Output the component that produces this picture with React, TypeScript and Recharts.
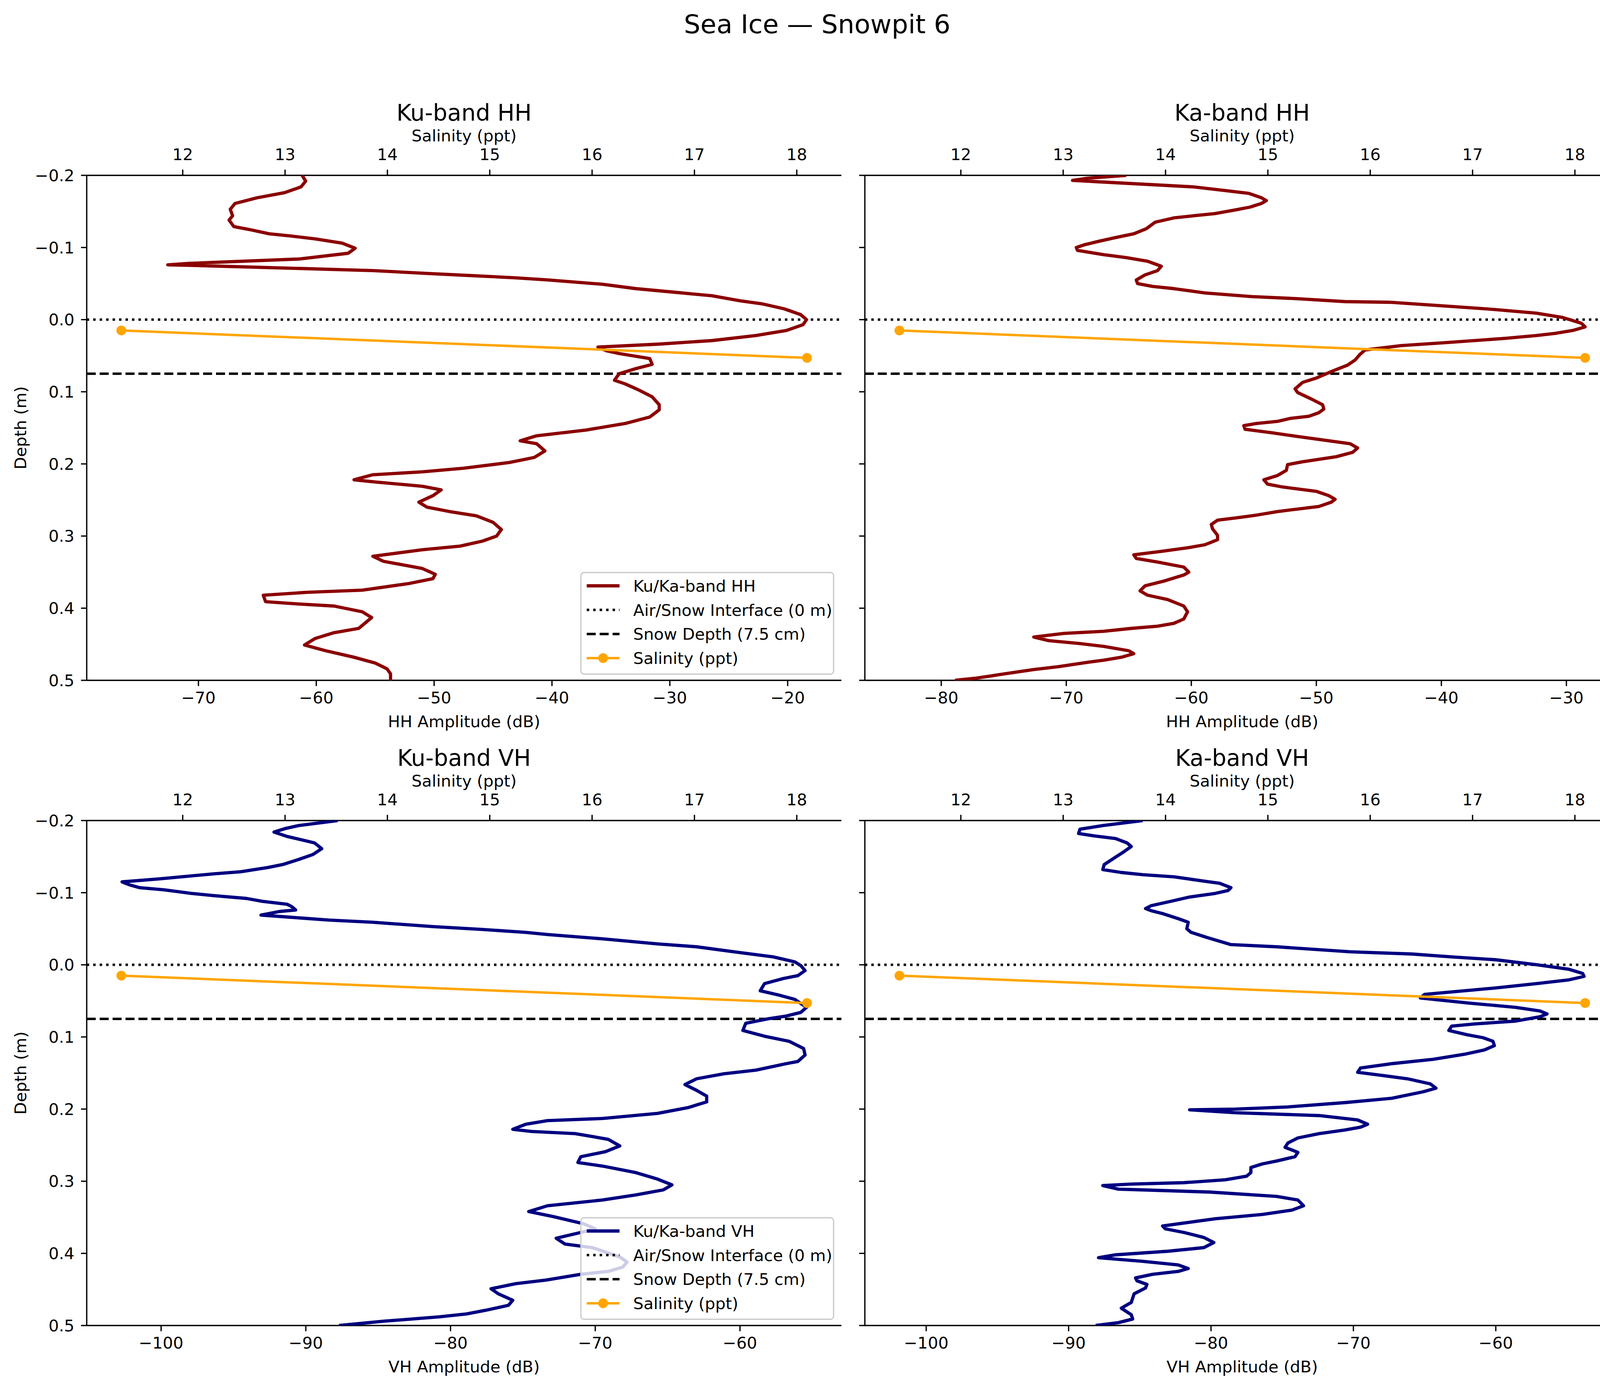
import React from "react";
import { ScatterChart, Scatter, XAxis, YAxis, ReferenceLine } from "recharts";

const FONT = '"DejaVu Sans", Verdana, sans-serif';

// [depth (m), amplitude (dB)]
const kuHH: [number, number][] = [
  [-0.2, -61.2], [-0.192, -60.9], [-0.184, -61.3], [-0.176, -62.7], [-0.169, -65.0], [-0.161, -66.9],
  [-0.153, -67.3], [-0.144, -67.1], [-0.138, -67.4], [-0.129, -67.0], [-0.125, -65.7], [-0.119, -64.0],
  [-0.116, -62.2], [-0.112, -60.1], [-0.106, -57.8], [-0.099, -56.7], [-0.092, -57.3], [-0.084, -61.5],
  [-0.078, -70.8], [-0.076, -72.6], [-0.075, -70.1], [-0.068, -55.2], [-0.064, -50.6], [-0.061, -46.8],
  [-0.058, -43.1], [-0.055, -40.3], [-0.049, -35.7], [-0.043, -32.9], [-0.038, -29.6], [-0.033, -26.4],
  [-0.026, -24.0], [-0.022, -22.2], [-0.015, -20.3], [-0.007, -18.9], [0.0, -18.4], [0.007, -18.7],
  [0.015, -20.1], [0.022, -22.7], [0.029, -26.4], [0.034, -31.0], [0.038, -36.1], [0.043, -35.4],
  [0.047, -34.3], [0.054, -31.7], [0.062, -31.5], [0.068, -32.9], [0.075, -34.3], [0.084, -34.7],
  [0.089, -33.8], [0.097, -32.7], [0.107, -31.5], [0.118, -30.9], [0.125, -30.9], [0.135, -31.7],
  [0.144, -33.8], [0.153, -37.1], [0.161, -41.3], [0.168, -42.7], [0.172, -41.3], [0.182, -40.6],
  [0.191, -41.5], [0.198, -43.6], [0.206, -47.5], [0.211, -51.0], [0.215, -55.2], [0.222, -56.8],
  [0.225, -55.0], [0.231, -51.0], [0.236, -49.4], [0.244, -50.1], [0.253, -51.3], [0.26, -50.6],
  [0.266, -48.7], [0.272, -46.4], [0.281, -45.0], [0.291, -44.3], [0.3, -44.7], [0.307, -45.9],
  [0.314, -47.8], [0.319, -51.0], [0.328, -55.2], [0.335, -54.3], [0.345, -51.0], [0.353, -49.9],
  [0.359, -50.1], [0.366, -52.2], [0.375, -56.1], [0.378, -60.8], [0.382, -64.5], [0.391, -64.3],
  [0.394, -61.7], [0.397, -58.5], [0.405, -56.1], [0.413, -55.3], [0.428, -56.4], [0.434, -58.5],
  [0.442, -60.1], [0.451, -61.0], [0.459, -59.2], [0.468, -56.8], [0.476, -55.0], [0.484, -54.0],
  [0.491, -53.7], [0.5, -53.7],
];

const kaHH: [number, number][] = [
  [-0.2, -65.2], [-0.196, -68.3], [-0.193, -69.5], [-0.184, -59.8], [-0.179, -57.3], [-0.175, -55.4],
  [-0.169, -54.4], [-0.165, -54.0], [-0.161, -54.4], [-0.156, -55.3], [-0.152, -56.5], [-0.147, -58.1],
  [-0.144, -59.8], [-0.141, -61.4], [-0.135, -62.9], [-0.126, -63.6], [-0.119, -64.6], [-0.114, -66.0],
  [-0.109, -67.3], [-0.104, -68.5], [-0.1, -69.2], [-0.096, -69.1], [-0.09, -67.0], [-0.086, -65.2],
  [-0.081, -63.5], [-0.074, -62.4], [-0.068, -62.7], [-0.062, -63.7], [-0.055, -64.4], [-0.05, -64.3],
  [-0.046, -63.1], [-0.043, -61.4], [-0.037, -58.9], [-0.032, -55.2], [-0.029, -51.5], [-0.025, -47.7],
  [-0.024, -44.0], [-0.019, -39.8], [-0.016, -37.3], [-0.014, -35.7], [-0.009, -32.4], [-0.003, -30.3],
  [0.005, -28.8], [0.01, -28.5], [0.015, -29.5], [0.019, -30.9], [0.022, -32.4], [0.026, -34.9],
  [0.032, -39.8], [0.036, -43.2], [0.042, -46.1], [0.048, -46.5], [0.056, -46.9], [0.063, -47.5],
  [0.072, -48.8], [0.081, -50.0], [0.087, -51.1], [0.096, -51.7], [0.101, -51.5], [0.11, -50.4],
  [0.118, -49.5], [0.124, -49.4], [0.129, -49.8], [0.134, -50.6], [0.137, -52.1], [0.141, -53.1],
  [0.144, -54.8], [0.147, -55.8], [0.152, -55.7], [0.157, -53.5], [0.162, -51.5], [0.168, -49.0],
  [0.172, -47.3], [0.178, -46.7], [0.184, -47.1], [0.19, -48.4], [0.197, -51.1], [0.201, -52.3],
  [0.209, -52.4], [0.216, -53.1], [0.222, -54.2], [0.228, -53.9], [0.232, -52.7], [0.238, -50.0],
  [0.244, -49.0], [0.249, -48.5], [0.253, -48.8], [0.259, -49.8], [0.266, -53.1], [0.271, -54.8],
  [0.275, -56.5], [0.278, -57.9], [0.284, -58.4], [0.29, -58.3], [0.299, -57.9], [0.305, -57.9],
  [0.312, -58.9], [0.316, -60.2], [0.321, -62.3], [0.326, -64.6], [0.331, -64.4], [0.336, -62.7],
  [0.343, -60.6], [0.35, -60.2], [0.354, -60.6], [0.362, -62.1], [0.369, -63.7], [0.376, -64.1],
  [0.382, -63.5], [0.388, -61.9], [0.397, -60.6], [0.405, -60.3], [0.415, -60.6], [0.421, -61.4],
  [0.425, -62.7], [0.428, -64.8], [0.432, -67.0], [0.435, -70.2], [0.44, -72.6], [0.445, -71.4],
  [0.449, -68.9], [0.453, -67.0], [0.459, -65.0], [0.463, -64.6], [0.468, -65.6], [0.472, -67.0],
  [0.475, -68.3], [0.481, -70.6], [0.485, -72.6], [0.492, -75.3], [0.497, -77.2], [0.5, -78.9],
];

const kuVH: [number, number][] = [
  [-0.2, -87.8], [-0.193, -90.5], [-0.189, -91.4], [-0.184, -92.2], [-0.178, -91.3], [-0.169, -89.4],
  [-0.161, -88.9], [-0.153, -89.5], [-0.146, -90.5], [-0.139, -91.6], [-0.135, -92.6], [-0.129, -94.5],
  [-0.126, -96.4], [-0.122, -98.6], [-0.119, -100.2], [-0.115, -102.7], [-0.111, -102.2], [-0.107, -101.5],
  [-0.104, -99.8], [-0.099, -97.9], [-0.096, -96.4], [-0.092, -94.1], [-0.088, -93.0], [-0.084, -91.3],
  [-0.081, -91.0], [-0.076, -90.7], [-0.074, -91.8], [-0.069, -93.1], [-0.066, -91.1], [-0.062, -88.4],
  [-0.059, -85.4], [-0.053, -81.2], [-0.049, -77.8], [-0.045, -74.8], [-0.042, -73.3], [-0.036, -69.5],
  [-0.029, -65.7], [-0.025, -63.0], [-0.017, -60.0], [-0.011, -57.7], [-0.004, -56.2], [0.001, -55.8],
  [0.008, -55.5], [0.015, -56.0], [0.019, -57.0], [0.026, -58.3], [0.036, -58.6], [0.042, -57.3],
  [0.048, -56.2], [0.059, -55.4], [0.066, -55.8], [0.071, -56.8], [0.075, -58.1], [0.081, -59.6],
  [0.091, -59.8], [0.099, -58.3], [0.106, -56.6], [0.116, -55.6], [0.125, -55.5], [0.134, -56.0],
  [0.137, -56.8], [0.146, -58.9], [0.151, -61.1], [0.158, -63.0], [0.166, -63.8], [0.174, -63.0],
  [0.182, -62.3], [0.19, -62.3], [0.198, -63.6], [0.206, -65.7], [0.213, -69.5], [0.216, -73.3],
  [0.221, -74.8], [0.228, -75.7], [0.231, -74.4], [0.234, -71.4], [0.238, -70.2], [0.242, -69.1],
  [0.251, -68.3], [0.259, -69.3], [0.266, -71.0], [0.274, -71.2], [0.279, -69.5], [0.288, -67.2],
  [0.297, -65.7], [0.305, -64.7], [0.312, -65.3], [0.319, -67.2], [0.326, -69.5], [0.334, -73.3],
  [0.342, -74.6], [0.349, -72.9], [0.359, -70.8], [0.366, -70.0], [0.371, -71.0], [0.379, -72.7],
  [0.387, -72.1], [0.392, -70.2], [0.405, -68.3], [0.412, -67.8], [0.419, -68.1], [0.425, -69.1],
  [0.429, -71.0], [0.437, -73.4], [0.442, -75.5], [0.449, -77.2], [0.456, -76.7], [0.465, -75.7],
  [0.472, -76.0], [0.479, -77.6], [0.484, -78.9], [0.488, -80.8], [0.494, -84.6], [0.5, -87.7],
];

const kaVH: [number, number][] = [
  [-0.2, -84.8], [-0.193, -87.6], [-0.188, -89.2], [-0.182, -89.3], [-0.179, -88.3], [-0.175, -86.7],
  [-0.169, -85.9], [-0.164, -85.6], [-0.157, -86.1], [-0.148, -86.8], [-0.139, -87.5], [-0.132, -87.6],
  [-0.128, -86.3], [-0.125, -84.8], [-0.122, -82.6], [-0.116, -80.5], [-0.113, -79.4], [-0.107, -78.6],
  [-0.103, -78.8], [-0.099, -79.7], [-0.094, -81.5], [-0.089, -82.6], [-0.082, -84.2], [-0.078, -84.6],
  [-0.075, -84.2], [-0.071, -83.4], [-0.064, -82.3], [-0.059, -81.6], [-0.05, -81.7], [-0.045, -81.4],
  [-0.038, -80.3], [-0.028, -78.6], [-0.025, -75.4], [-0.018, -70.2], [-0.015, -65.9], [-0.011, -63.1],
  [-0.007, -60.0], [0.0, -57.1], [0.006, -54.9], [0.012, -53.9], [0.016, -53.8], [0.021, -54.9],
  [0.026, -57.1], [0.032, -60.0], [0.036, -62.2], [0.041, -65.0], [0.046, -65.3], [0.053, -61.9],
  [0.059, -58.6], [0.064, -56.9], [0.068, -56.4], [0.072, -56.9], [0.078, -58.6], [0.082, -61.5],
  [0.085, -63.1], [0.091, -63.3], [0.097, -62.0], [0.101, -60.9], [0.106, -60.2], [0.112, -60.1],
  [0.118, -60.8], [0.124, -62.2], [0.131, -64.4], [0.137, -67.3], [0.143, -69.5], [0.149, -69.7],
  [0.153, -68.1], [0.158, -66.2], [0.165, -64.6], [0.171, -64.2], [0.176, -65.1], [0.185, -67.3],
  [0.191, -70.6], [0.197, -74.6], [0.2, -78.3], [0.201, -81.5], [0.205, -78.3], [0.209, -72.4],
  [0.215, -69.7], [0.221, -69.0], [0.225, -69.5], [0.229, -70.6], [0.234, -72.4], [0.24, -73.9],
  [0.247, -74.6], [0.253, -74.8], [0.26, -73.9], [0.266, -74.1], [0.272, -75.4], [0.276, -76.4],
  [0.281, -77.2], [0.288, -77.2], [0.293, -77.5], [0.298, -79.0], [0.302, -81.9], [0.304, -85.6],
  [0.306, -87.6], [0.311, -86.5], [0.312, -84.8], [0.315, -80.1], [0.321, -75.4], [0.326, -73.9],
  [0.334, -73.5], [0.34, -74.3], [0.346, -76.4], [0.352, -79.7], [0.362, -83.4], [0.366, -83.2],
  [0.371, -81.9], [0.378, -80.5], [0.385, -79.8], [0.392, -80.5], [0.397, -83.0], [0.402, -86.7],
  [0.406, -87.9], [0.411, -84.8], [0.416, -82.3], [0.421, -81.6], [0.425, -82.3], [0.429, -84.1],
  [0.434, -85.3], [0.438, -85.2], [0.443, -84.5], [0.448, -84.6], [0.456, -85.4], [0.468, -85.6],
  [0.476, -86.3], [0.485, -85.6], [0.491, -85.5], [0.496, -86.5], [0.5, -88.1],
];

const salinityDepth = [0.015, 0.053];
const salinityValue = [11.4, 18.1];

const depthTicks = [-0.2, -0.1, 0, 0.1, 0.2, 0.3, 0.4, 0.5];
const salinityTicks = [12, 13, 14, 15, 16, 17, 18];
const kuHHTicks = [-70, -60, -50, -40, -30, -20];
const kaHHTicks = [-80, -70, -60, -50, -40, -30];
const vhTicks = [-100, -90, -80, -70, -60];

const AIR_SNOW = 0;
const SNOW_DEPTH = 0.075;

const HH_COLOR = "#8B0000";
const VH_COLOR = "#000080";
const SAL_COLOR = "#FFA500";

// plot boxes in page pixels
const COL_L = [222, 2214];
const ROW_T = [449, 2101];
const PW = 1932;
const PH = 1293;
const AX_L = 150;
const AX_T = 120;
const AX_B = 110;

const FS = 41.67;
const LW = 3.33;

const minus = (s: string) => s.replace("-", "\u2212");
const fmtInt = (v: number) => minus(String(v));
const fmtDepth = (v: number) => minus((Math.abs(v) < 1e-9 ? 0 : v).toFixed(1));

const noDot = () => <g />;
const salDot = (p: any) => <circle cx={p.cx} cy={p.cy} r={12.5} fill={SAL_COLOR} />;

const panels = [
  { title: "Ku-band HH", series: kuHH, color: HH_COLOR, domain: [-79.48, -15.44], ticks: kuHHTicks, xLabel: "HH Amplitude (dB)", col: 0, row: 0 },
  { title: "Ka-band HH", series: kaHH, color: HH_COLOR, domain: [-86.11, -25.75], ticks: kaHHTicks, xLabel: "HH Amplitude (dB)", col: 1, row: 0 },
  { title: "Ku-band VH", series: kuVH, color: VH_COLOR, domain: [-105.14, -52.99], ticks: vhTicks, xLabel: "VH Amplitude (dB)", col: 0, row: 1 },
  { title: "Ka-band VH", series: kaVH, color: VH_COLOR, domain: [-104.31, -51.31], ticks: vhTicks, xLabel: "VH Amplitude (dB)", col: 1, row: 1 },
];

const axisLine = { stroke: "#000", strokeWidth: LW };
const tickStyle = { fill: "#000", fontSize: FS, fontFamily: FONT };

function Panel({ p }: { p: (typeof panels)[number] }) {
  const data = p.series.map(([d, v]) => ({ x: v, y: d }));
  const sal = salinityDepth.map((d, i) => ({ x: salinityValue[i], y: d }));
  const left = COL_L[p.col];
  const top = ROW_T[p.row];
  return (
    <div style={{ position: "absolute", left: left - AX_L, top: top - AX_T }}>
      <ScatterChart width={AX_L + PW} height={AX_T + PH + AX_B} margin={{ top: 0, right: 0, bottom: 0, left: 0 }}>
        <XAxis
          xAxisId="amp" type="number" dataKey="x" domain={p.domain} ticks={p.ticks} allowDataOverflow
          orientation="bottom" height={AX_B} interval={0} stroke="#000"
          tickSize={14.6} tickMargin={15} axisLine={axisLine} tickLine={axisLine} tick={tickStyle}
          tickFormatter={fmtInt}
        />
        <XAxis
          xAxisId="sal" type="number" dataKey="x" domain={[11.062, 18.436]} ticks={salinityTicks} allowDataOverflow
          orientation="top" height={AX_T} interval={0} stroke="#000"
          tickSize={14.6} tickMargin={24} axisLine={axisLine} tickLine={axisLine} tick={tickStyle}
          tickFormatter={fmtInt}
        />
        <YAxis
          yAxisId="d" type="number" dataKey="y" domain={[-0.2, 0.5]} ticks={depthTicks} reversed allowDataOverflow
          width={AX_L} interval={0} stroke="#000"
          tickSize={14.6} tickMargin={17} axisLine={axisLine} tickLine={axisLine} tick={tickStyle}
          tickFormatter={p.col === 0 ? fmtDepth : () => ""}
        />
        <YAxis
          yAxisId="frame" orientation="right" type="number" domain={[0, 1]} width={0}
          tick={false} tickLine={false} axisLine={axisLine}
        />
        <Scatter
          xAxisId="amp" yAxisId="d" data={data} shape={noDot} isAnimationActive={false}
          line={{ stroke: p.color, strokeWidth: 8.33, strokeLinejoin: "round" }}
        />
        <ReferenceLine xAxisId="amp" yAxisId="d" y={AIR_SNOW} stroke="#000" strokeWidth={6.25} strokeDasharray="6.25 10.3" />
        <ReferenceLine xAxisId="amp" yAxisId="d" y={SNOW_DEPTH} stroke="#000" strokeWidth={6.25} strokeDasharray="23.1 10" />
        <Scatter
          xAxisId="sal" yAxisId="d" data={sal} shape={salDot} isAnimationActive={false}
          line={{ stroke: SAL_COLOR, strokeWidth: 6.25 }}
        />
      </ScatterChart>
    </div>
  );
}

function LegendBox({ x, y, color, label }: { x: number; y: number; color: string; label: string }) {
  const rows = [0, 1, 2, 3].map((i) => y + 34 + i * 61.7);
  const hx0 = x + 15;
  const hx1 = x + 99;
  const tx = x + 134;
  return (
    <g>
      <rect x={x} y={y} width={647} height={260} rx={8} fill="rgba(255,255,255,0.8)" stroke="#cccccc" strokeWidth={3.33} />
      <line x1={hx0} x2={hx1} y1={rows[0]} y2={rows[0]} stroke={color} strokeWidth={8.33} />
      <text x={tx} y={rows[0] + 15}>{label}</text>
      <line x1={hx0} x2={hx1} y1={rows[1]} y2={rows[1]} stroke="#000" strokeWidth={6.25} strokeDasharray="6.25 10.3" />
      <text x={tx} y={rows[1] + 15}>Air/Snow Interface (0 m)</text>
      <line x1={hx0} x2={hx1} y1={rows[2]} y2={rows[2]} stroke="#000" strokeWidth={6.25} strokeDasharray="23.1 10" />
      <text x={tx} y={rows[2] + 15}>Snow Depth (7.5 cm)</text>
      <line x1={hx0} x2={hx1} y1={rows[3]} y2={rows[3]} stroke={SAL_COLOR} strokeWidth={6.25} />
      <circle cx={(hx0 + hx1) / 2} cy={rows[3]} r={12.5} fill={SAL_COLOR} />
      <text x={tx} y={rows[3] + 15}>Salinity (ppt)</text>
    </g>
  );
}

export default function App() {
  return (
    <div style={{ position: "absolute", left: 0, top: 0, width: 4184, height: 3554, background: "#fff", fontFamily: FONT }}>
      {panels.map((p) => (
        <Panel key={p.title} p={p} />
      ))}
      <svg width={4184} height={3554} style={{ position: "absolute", left: 0, top: 0, pointerEvents: "none" }} fontFamily={FONT} fill="#000">
        <text x={2092} y={85} fontSize={66.7} textAnchor="middle">Sea Ice — Snowpit 6</text>
        {panels.map((p) => {
          const cx = COL_L[p.col] + PW / 2;
          const t = ROW_T[p.row];
          return (
            <g key={p.title}>
              <text x={cx} y={t - 140} fontSize={58.3} textAnchor="middle">{p.title}</text>
              <text x={cx} y={t - 87} fontSize={FS} textAnchor="middle">Salinity (ppt)</text>
              <text x={cx} y={t + PH + 120} fontSize={FS} textAnchor="middle">{p.xLabel}</text>
              {p.col === 0 && (
                <text x={67} y={t + PH / 2} fontSize={FS} textAnchor="middle" transform={`rotate(-90 67 ${t + PH / 2})`}>
                  Depth (m)
                </text>
              )}
            </g>
          );
        })}
        <g fontSize={FS}>
          <LegendBox x={1487} y={1466} color={HH_COLOR} label="Ku/Ka-band HH" />
          <LegendBox x={1487} y={3118} color={VH_COLOR} label="Ku/Ka-band VH" />
        </g>
      </svg>
    </div>
  );
}
